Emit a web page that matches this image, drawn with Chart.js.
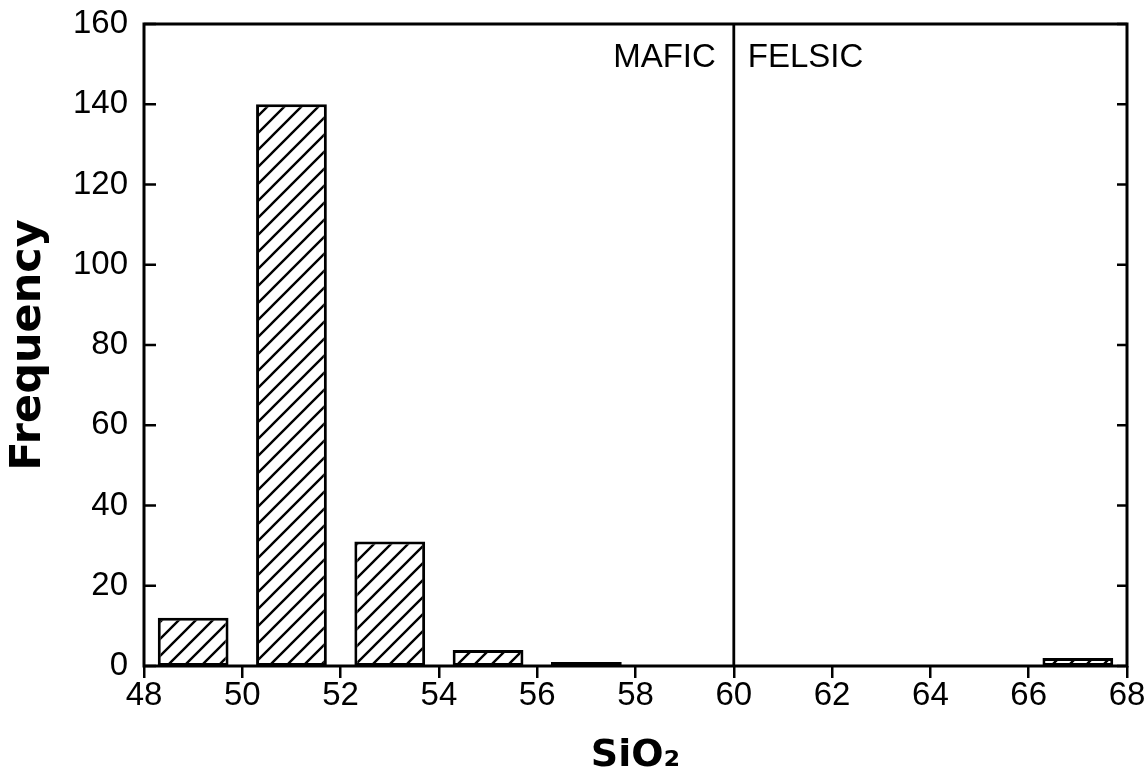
<!DOCTYPE html>
<html>
<head>
<meta charset="utf-8">
<script src="https://cdn.jsdelivr.net/npm/chart.js@4"></script>
<style>
  html, body { margin: 0; padding: 0; background: #fff; }
  #wrap { width: 1145px; height: 783px; }
</style>
</head>
<body>
<div id="wrap"><canvas id="histChart" width="1145" height="783"></canvas></div>
<script>
// SiO2 histogram, bins of 2 wt%
const binCenters = [49, 51, 53, 55, 57, 59, 61, 63, 65, 67];
const frequency = [12, 140, 31, 4, 1, 0, 0, 0, 0, 2];
const xTicks = [48, 50, 52, 54, 56, 58, 60, 62, 64, 66, 68];
const yTicks = [0, 20, 40, 60, 80, 100, 120, 140, 160];
const divider = 60;
const leftLabel = 'MAFIC';
const rightLabel = 'FELSIC';

function makeHatch() {
    const s = 17;
    const c = document.createElement('canvas');
    c.width = s;
    c.height = s;
    const g = c.getContext('2d');
    g.fillStyle = '#fff';
    g.fillRect(0, 0, s, s);
    g.strokeStyle = '#000';
    g.lineWidth = 2.4;
    g.beginPath();
    g.moveTo(0, s); g.lineTo(s, 0);
    g.moveTo(-3, 3); g.lineTo(3, -3);
    g.moveTo(s - 3, s + 3); g.lineTo(s + 3, s - 3);
    g.stroke();
    return g.createPattern(c, 'repeat');
}

// frame, inward y ticks, the divider line and its labels
const decorations = {
    id: 'decorations',
    afterDraw(chart) {
        const ctx = chart.ctx;
        const area = chart.chartArea;
        const x = chart.scales.x;
        const y = chart.scales.y;
        ctx.save();
        ctx.strokeStyle = '#000';
        ctx.lineWidth = 3;
        ctx.strokeRect(area.left, area.top, area.right - area.left, area.bottom - area.top);

        ctx.lineWidth = 2.5;
        ctx.beginPath();
        y.ticks.forEach(t => {
            const py = y.getPixelForValue(t.value);
            ctx.moveTo(area.left, py); ctx.lineTo(area.left + 12, py);
            ctx.moveTo(area.right - 10, py); ctx.lineTo(area.right, py);
        });
        ctx.stroke();

        const dx = x.getPixelForValue(divider);
        ctx.lineWidth = 2.8;
        ctx.beginPath();
        ctx.moveTo(dx, area.top);
        ctx.lineTo(dx, area.bottom);
        ctx.stroke();

        ctx.fillStyle = '#000';
        ctx.font = '33px "Liberation Sans", Arial, sans-serif';
        ctx.textBaseline = 'middle';
        ctx.textAlign = 'right';
        ctx.fillText(leftLabel, dx - 18, area.top + 34);
        ctx.textAlign = 'left';
        ctx.fillText(rightLabel, dx + 14, area.top + 34);
        ctx.restore();
    }
};

const ctx = document.getElementById('histChart').getContext('2d');
const hatch = makeHatch();

new Chart(ctx, {
    type: 'bar',
    data: {
        datasets: [{
            data: binCenters.map((c, i) => ({ x: c, y: frequency[i] })),
            backgroundColor: hatch,
            borderColor: '#000',
            borderWidth: 3,
            borderSkipped: false,
            barPercentage: 0.72,
            categoryPercentage: 1.0
        }]
    },
    options: {
        responsive: false,
        animation: false,
        devicePixelRatio: 1,
        layout: { padding: { top: 24, right: 18, left: 0, bottom: 0 } },
        plugins: {
            legend: { display: false },
            tooltip: { enabled: false }
        },
        scales: {
            x: {
                type: 'linear',
                min: 48,
                max: 68,
                offset: false,
                afterBuildTicks: s => { s.ticks = xTicks.map(v => ({ value: v })); },
                afterFit: s => {
                    s.height = 117;
                    s.paddingLeft = 0;
                    s.paddingRight = 0;
                },
                grid: {
                    offset: false,
                    drawOnChartArea: false,
                    drawTicks: true,
                    tickLength: 12,
                    color: '#000',
                    lineWidth: 2.5
                },
                border: { display: false },
                ticks: {
                    color: '#000',
                    padding: -2,
                    maxRotation: 0,
                    font: { family: '"Liberation Sans", Arial, sans-serif', size: 33 }
                },
                title: {
                    display: true,
                    text: 'SiO₂',
                    color: '#000',
                    padding: { top: 0, bottom: 4 },
                    font: { family: '"DejaVu Sans", sans-serif', size: 38, weight: 'bold' }
                }
            },
            y: {
                min: 0,
                max: 160,
                afterBuildTicks: s => { s.ticks = yTicks.map(v => ({ value: v })); },
                afterFit: s => {
                    s.width = 144;
                    s.paddingTop = 0;
                    s.paddingBottom = 0;
                },
                grid: { display: false, drawTicks: false },
                border: { display: false },
                ticks: {
                    color: '#000',
                    padding: 16,
                    font: { family: '"Liberation Sans", Arial, sans-serif', size: 33 }
                },
                title: {
                    display: true,
                    text: 'Frequency',
                    color: '#000',
                    padding: { top: 3, bottom: 0 },
                    font: { family: '"DejaVu Sans", sans-serif', size: 43, weight: 'bold' }
                }
            }
        }
    },
    plugins: [decorations]
});
</script>
</body>
</html>
